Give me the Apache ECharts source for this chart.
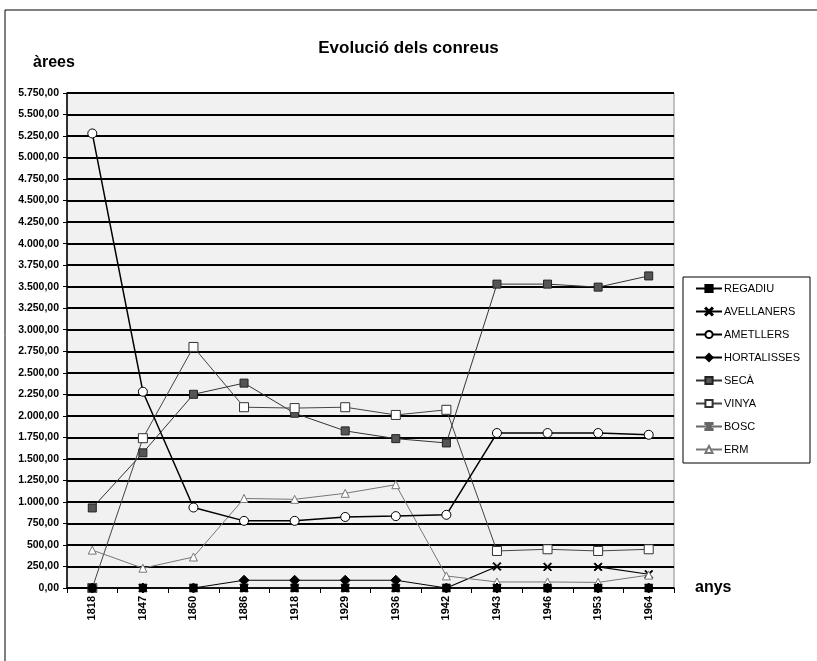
<!DOCTYPE html>
<html>
<head>
<meta charset="utf-8">
<title>Evolució dels conreus</title>
<script src="https://cdn.jsdelivr.net/npm/echarts@6/dist/echarts.min.js"></script>
<style>
	* { margin: 0; padding: 0; }
	body { background: #fff; }
	#main { width: 817px; height: 661px; }
</style>
</head>
<body>
<div id="main"></div>
<script>
	// anys
	let dataTitle = ['1818', '1847', '1860', '1886', '1918', '1929', '1936', '1942', '1943', '1946', '1953', '1964'];
	// àrees per conreu
	let regadiu     = [0, 0, 0, 0, 0, 0, 0, 0, 0, 0, 0, 0];
	let avellaners  = [0, 0, 0, 0, 0, 0, 0, 0, 250, 245, 245, 160];
	let ametllers   = [5280, 2280, 935, 780, 780, 825, 835, 850, 1800, 1800, 1800, 1780];
	let hortalisses = [0, 0, 0, 90, 90, 90, 90, 0, 0, 0, 0, 0];
	let seca        = [930, 1570, 2250, 2380, 2030, 1825, 1735, 1685, 3530, 3530, 3495, 3625];
	let vinya       = [0, 1740, 2800, 2100, 2090, 2100, 2010, 2070, 430, 450, 430, 450];
	let bosc        = [0, 0, 0, 0, 0, 0, 0, 0, 0, 0, 0, 0];
	let erm         = [440, 230, 360, 1040, 1030, 1100, 1200, 140, 70, 70, 65, 150];

	let crossPath = 'path://M0,1L1,0L5,4L9,0L10,1L6,5L10,9L9,10L5,6L1,10L0,9L4,5Z';
	let boscPath = 'path://M0,0L4,0L4,10L0,10L0,8.6L2.6,8.6L2.6,1.4L0,1.4ZM10,0L6,0L6,10L10,10L10,8.6L7.4,8.6L7.4,1.4L10,1.4Z';

	function fmt(v) {
		// 5.750,00
		let s = Math.round(v).toString().replace(/\B(?=(\d{3})+(?!\d))/g, '.');
		return s + ',00';
	}

	function serie(name, data, opt) {
		return {
			name: name,
			type: 'line',
			data: data,
			symbol: opt.symbol,
			symbolSize: opt.size,
			showAllSymbol: true,
			z: opt.z || 3,
			itemStyle: {
				color: opt.fill,
				borderColor: opt.border,
				borderWidth: 1
			},
			lineStyle: {
				color: opt.line,
				width: opt.width || 1
			}
		};
	}

	let myChart = echarts.init(document.getElementById('main'));
	let option = {
		backgroundColor: '#ffffff',
		animation: false,
		textStyle: { fontFamily: 'Arial, Liberation Sans, sans-serif' },
		title: {
			text: 'Evolució dels conreus',
			left: 'center',
			top: 35,
			textStyle: { fontSize: 17, fontWeight: 'bold', color: '#000', fontFamily: 'Arial, Liberation Sans, sans-serif' }
		},
		graphic: [
			{ type: 'line', shape: { x1: 5, y1: 10, x2: 817, y2: 10 }, style: { stroke: '#000', lineWidth: 1 } },
			{ type: 'line', shape: { x1: 5, y1: 10, x2: 5, y2: 661 }, style: { stroke: '#000', lineWidth: 1 } },
			{ type: 'text', left: 33, top: 55, style: { text: 'àrees', font: 'bold 16px Arial, Liberation Sans, sans-serif', fill: '#000' } },
			{ type: 'text', left: 695, top: 580, style: { text: 'anys', font: 'bold 16px Arial, Liberation Sans, sans-serif', fill: '#000' } }
		],
		legend: {
			orient: 'vertical',
			left: 683,
			top: 277,
			padding: [6, 10, 8, 12],
			itemGap: 12,
			itemWidth: 26,
			itemHeight: 9,
			borderColor: '#000',
			borderWidth: 1,
			backgroundColor: '#fff',
			textStyle: { fontSize: 11, color: '#000', padding: [0, 0, 0, -3] },
			data: ['REGADIU', 'AVELLANERS', 'AMETLLERS', 'HORTALISSES', 'SECÀ', 'VINYA', 'BOSC', 'ERM']
		},
		grid: {
			left: 67,
			right: 143,
			top: 93,
			bottom: 73,
			show: true,
			backgroundColor: '#f1f1f1',
			borderColor: '#888',
			borderWidth: 1
		},
		xAxis: {
			type: 'category',
			data: dataTitle,
			boundaryGap: true,
			axisLine: { lineStyle: { color: '#000', width: 1.5 } },
			axisTick: { show: true, length: 5, lineStyle: { color: '#000' } },
			axisLabel: { rotate: 90, color: '#000', fontSize: 11, fontWeight: 'bold', margin: 8, interval: 0 },
			splitLine: { show: false }
		},
		yAxis: {
			type: 'value',
			min: 0,
			max: 5750,
			interval: 250,
			axisLine: { show: true, lineStyle: { color: '#000', width: 1.5 } },
			axisTick: { show: true, length: 4, lineStyle: { color: '#000' } },
			axisLabel: { color: '#000', fontSize: 10.5, fontWeight: 'bold', margin: 8, formatter: fmt },
			splitLine: { show: true, lineStyle: { color: '#000', width: 2 } }
		},
		series: [
			serie('REGADIU', regadiu, { symbol: 'rect', size: 7, fill: '#000', border: '#000', line: '#000', z: 4 }),
			serie('AVELLANERS', avellaners, { symbol: crossPath, size: 8, fill: '#000', border: '#000', line: '#000', width: 1.2 }),
			serie('AMETLLERS', ametllers, { symbol: 'circle', size: 9, fill: '#fff', border: '#000', line: '#000', width: 1.5, z: 5 }),
			serie('HORTALISSES', hortalisses, { symbol: 'diamond', size: 10, fill: '#000', border: '#000', line: '#000', z: 5 }),
			serie('SECÀ', seca, { symbol: 'rect', size: 8, fill: '#555', border: '#222', line: '#333' }),
			serie('VINYA', vinya, { symbol: 'rect', size: 9, fill: '#fff', border: '#333', line: '#444' }),
			serie('BOSC', bosc, { symbol: boscPath, size: 8, fill: '#666', border: '#666', line: '#666' }),
			serie('ERM', erm, { symbol: 'triangle', size: 8, fill: '#fff', border: '#777', line: '#777' })
		]
	};
	myChart.setOption(option);
</script>
</body>
</html>
